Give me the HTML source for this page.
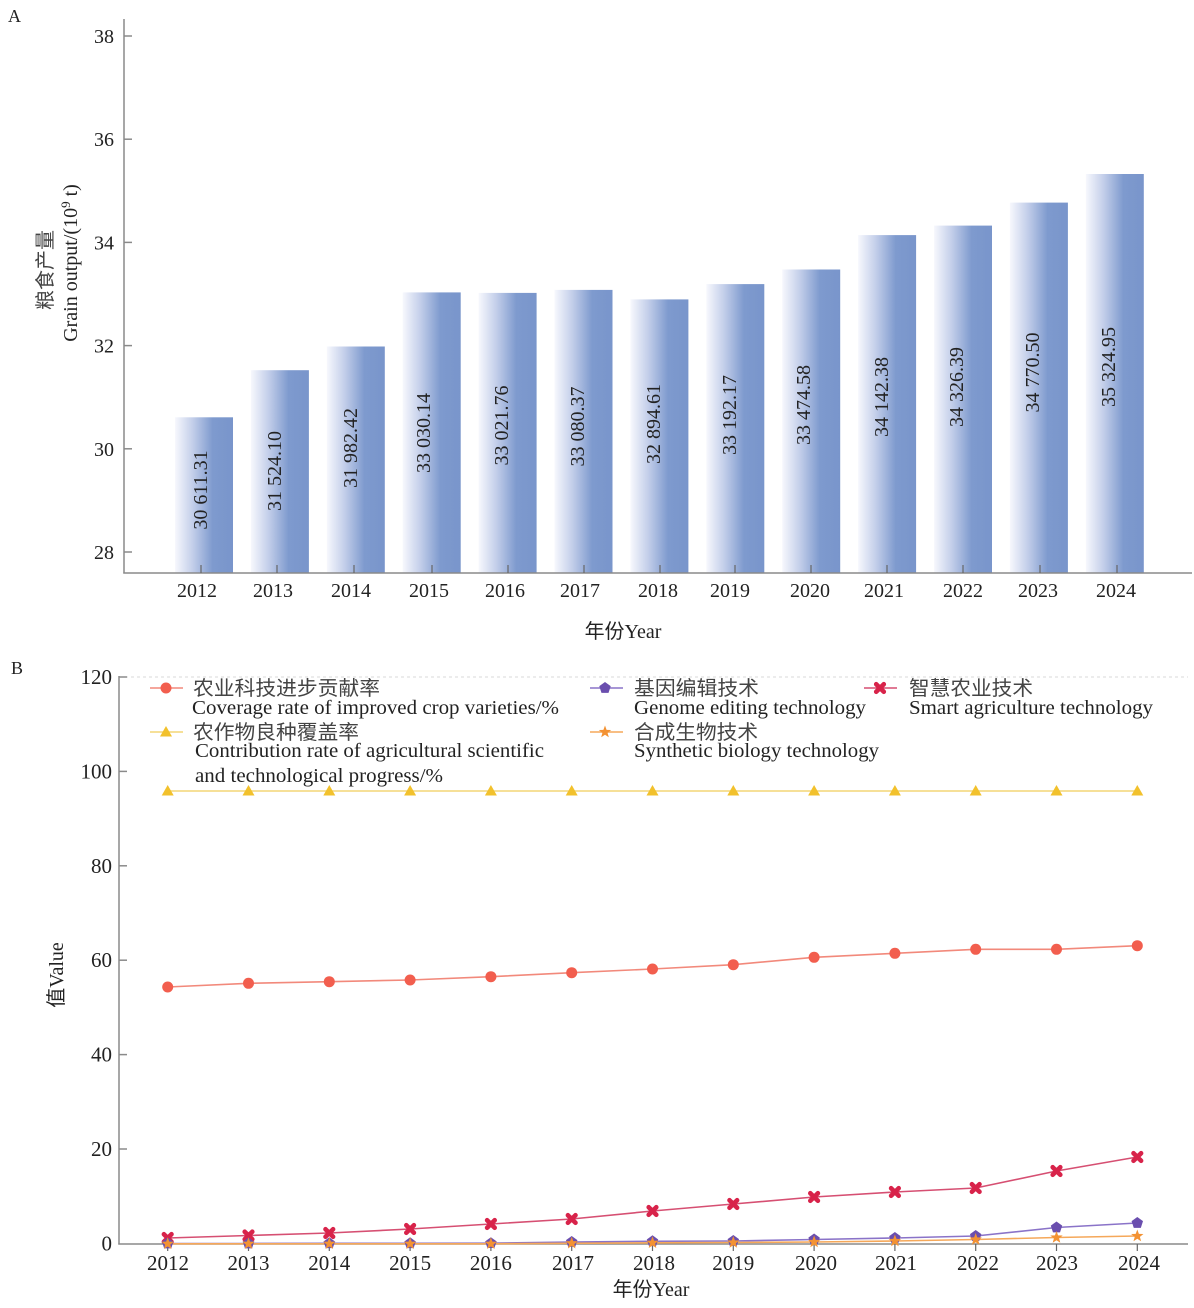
<!DOCTYPE html>
<html>
<head>
<meta charset="utf-8">
<style>
html,body{margin:0;padding:0;background:#fff;}
svg{display:block;}
text{font-family:"Liberation Serif","Noto Sans CJK SC",serif;fill:#222;}
.cjk{font-family:"Noto Sans CJK SC","Liberation Sans",sans-serif;fill:#444;}
</style>
</head>
<body>
<svg width="1194" height="1308" viewBox="0 0 1194 1308" xmlns="http://www.w3.org/2000/svg">
<defs>
  <linearGradient id="bg" x1="0" y1="0" x2="1" y2="0">
    <stop offset="0" stop-color="#f7f8fd"/>
    <stop offset="0.3" stop-color="#c4cfea"/>
    <stop offset="0.65" stop-color="#7e9ace"/>
    <stop offset="1" stop-color="#7995cb"/>
  </linearGradient>
  <g id="mc"><circle r="5.5" fill="#f25e4e"/></g>
  <g id="mt"><polygon points="0,-6 -6,4.5 6,4.5" fill="#f2c12c"/></g>
  <g id="mx"><path d="M-3.8,-3.8 L3.8,3.8 M3.8,-3.8 L-3.8,3.8" stroke="#d8234a" stroke-width="4.6" stroke-linecap="round" fill="none"/></g>
  <g id="mp"><polygon points="0,-6 5.71,-1.85 3.53,4.85 -3.53,4.85 -5.71,-1.85" fill="#6a4eae"/></g>
  <g id="ms"><polygon points="0,-6.5 1.59,-2.18 6.18,-2.01 2.57,0.83 3.82,5.26 0,2.7 -3.82,5.26 -2.57,0.83 -6.18,-2.01 -1.59,-2.18" fill="#f39233"/></g>
</defs>

<!-- ============ Chart A ============ -->
<text x="8" y="22" font-size="18">A</text>

<g fill="url(#bg)">
  <rect x="175.0" y="417.3" width="58" height="155.7"/>
  <rect x="250.9" y="370.2" width="58" height="202.8"/>
  <rect x="326.8" y="346.5" width="58" height="226.5"/>
  <rect x="402.7" y="292.4" width="58" height="280.6"/>
  <rect x="478.6" y="292.9" width="58" height="280.1"/>
  <rect x="554.5" y="289.9" width="58" height="283.1"/>
  <rect x="630.4" y="299.4" width="58" height="273.6"/>
  <rect x="706.3" y="284.1" width="58" height="288.9"/>
  <rect x="782.2" y="269.5" width="58" height="303.5"/>
  <rect x="858.1" y="235.1" width="58" height="337.9"/>
  <rect x="934.0" y="225.6" width="58" height="347.4"/>
  <rect x="1009.9" y="202.6" width="58" height="370.4"/>
  <rect x="1085.8" y="174.0" width="58" height="399.0"/>
</g>

<g font-size="20" text-anchor="middle" font-family="Liberation Serif, serif">
  <text transform="translate(207,490) rotate(-90)" fill="#333">30 611.31</text>
  <text transform="translate(281,471) rotate(-90)" fill="#333">31 524.10</text>
  <text transform="translate(357,448) rotate(-90)" fill="#333">31 982.42</text>
  <text transform="translate(430,433) rotate(-90)" fill="#333">33 030.14</text>
  <text transform="translate(508,425.5) rotate(-90)" fill="#333">33 021.76</text>
  <text transform="translate(584,426.5) rotate(-90)" fill="#333">33 080.37</text>
  <text transform="translate(660,424) rotate(-90)" fill="#333">32 894.61</text>
  <text transform="translate(736,415) rotate(-90)" fill="#333">33 192.17</text>
  <text transform="translate(810,405) rotate(-90)" fill="#333">33 474.58</text>
  <text transform="translate(888,397) rotate(-90)" fill="#333">34 142.38</text>
  <text transform="translate(963,387) rotate(-90)" fill="#333">34 326.39</text>
  <text transform="translate(1039,372.5) rotate(-90)" fill="#333">34 770.50</text>
  <text transform="translate(1115,367) rotate(-90)" fill="#333">35 324.95</text>
</g>

<g stroke="#8a8a8a" stroke-width="1.5" fill="none">
  <line x1="124" y1="19" x2="124" y2="573.5"/>
  <line x1="123.3" y1="573" x2="1192" y2="573"/>
  <line x1="124" y1="36" x2="132" y2="36"/>
  <line x1="124" y1="139.2" x2="132" y2="139.2"/>
  <line x1="124" y1="242.4" x2="132" y2="242.4"/>
  <line x1="124" y1="345.6" x2="132" y2="345.6"/>
  <line x1="124" y1="448.8" x2="132" y2="448.8"/>
  <line x1="124" y1="552" x2="132" y2="552"/>
</g>
<g stroke="#666" stroke-width="1.2">
  <line x1="201" y1="573" x2="201" y2="565"/>
  <line x1="277" y1="573" x2="277" y2="565"/>
  <line x1="354" y1="573" x2="354" y2="565"/>
  <line x1="432" y1="573" x2="432" y2="565"/>
  <line x1="508" y1="573" x2="508" y2="565"/>
  <line x1="584" y1="573" x2="584" y2="565"/>
  <line x1="660" y1="573" x2="660" y2="565"/>
  <line x1="735" y1="573" x2="735" y2="565"/>
  <line x1="811" y1="573" x2="811" y2="565"/>
  <line x1="887" y1="573" x2="887" y2="565"/>
  <line x1="963" y1="573" x2="963" y2="565"/>
  <line x1="1040" y1="573" x2="1040" y2="565"/>
  <line x1="1117" y1="573" x2="1117" y2="565"/>
</g>
<g font-size="20" text-anchor="end" font-family="Liberation Serif, serif">
  <text x="114" y="43">38</text>
  <text x="114" y="146.2">36</text>
  <text x="114" y="249.4">34</text>
  <text x="114" y="352.6">32</text>
  <text x="114" y="455.8">30</text>
  <text x="114" y="559">28</text>
</g>
<g font-size="20" text-anchor="middle" font-family="Liberation Serif, serif">
  <text x="197" y="597">2012</text>
  <text x="273" y="597">2013</text>
  <text x="351" y="597">2014</text>
  <text x="429" y="597">2015</text>
  <text x="505" y="597">2016</text>
  <text x="580" y="597">2017</text>
  <text x="658" y="597">2018</text>
  <text x="730" y="597">2019</text>
  <text x="810" y="597">2020</text>
  <text x="884" y="597">2021</text>
  <text x="963" y="597">2022</text>
  <text x="1038" y="597">2023</text>
  <text x="1116" y="597">2024</text>
</g>
<text x="623" y="638" font-size="20" text-anchor="middle">年份Year</text>
<text class="cjk" transform="translate(52,270) rotate(-90)" font-size="20" text-anchor="middle">粮食产量</text>
<text transform="translate(77,263) rotate(-90)" font-size="20" text-anchor="middle">Grain output/(10<tspan font-size="13" dy="-7">9</tspan><tspan dy="7"> t)</tspan></text>

<!-- ============ Chart B ============ -->
<text x="11" y="674" font-size="18">B</text>

<line x1="119" y1="677" x2="1188" y2="677" stroke="#d8d8d8" stroke-width="1" stroke-dasharray="3,3"/>
<g stroke="#8a8a8a" stroke-width="1.5" fill="none">
  <line x1="119" y1="676" x2="119" y2="1244.5"/>
  <line x1="118.3" y1="1244" x2="1188" y2="1244"/>
  <line x1="119" y1="677" x2="127" y2="677"/>
  <line x1="119" y1="771.4" x2="127" y2="771.4"/>
  <line x1="119" y1="865.8" x2="127" y2="865.8"/>
  <line x1="119" y1="960.2" x2="127" y2="960.2"/>
  <line x1="119" y1="1054.6" x2="127" y2="1054.6"/>
  <line x1="119" y1="1149" x2="127" y2="1149"/>
</g>
<g stroke="#666" stroke-width="1.2">
  <line x1="167.7" y1="1244" x2="167.7" y2="1251"/>
  <line x1="248.5" y1="1244" x2="248.5" y2="1251"/>
  <line x1="329.3" y1="1244" x2="329.3" y2="1251"/>
  <line x1="410.1" y1="1244" x2="410.1" y2="1251"/>
  <line x1="490.9" y1="1244" x2="490.9" y2="1251"/>
  <line x1="571.7" y1="1244" x2="571.7" y2="1251"/>
  <line x1="652.5" y1="1244" x2="652.5" y2="1251"/>
  <line x1="733.3" y1="1244" x2="733.3" y2="1251"/>
  <line x1="814.1" y1="1244" x2="814.1" y2="1251"/>
  <line x1="894.9" y1="1244" x2="894.9" y2="1251"/>
  <line x1="975.7" y1="1244" x2="975.7" y2="1251"/>
  <line x1="1056.5" y1="1244" x2="1056.5" y2="1251"/>
  <line x1="1137.3" y1="1244" x2="1137.3" y2="1251"/>
</g>
<g font-size="21" text-anchor="end" font-family="Liberation Serif, serif">
  <text x="112" y="684">120</text>
  <text x="112" y="778.4">100</text>
  <text x="112" y="872.8">80</text>
  <text x="112" y="967.2">60</text>
  <text x="112" y="1061.6">40</text>
  <text x="112" y="1156">20</text>
  <text x="112" y="1250.5">0</text>
</g>
<g font-size="21" text-anchor="middle" font-family="Liberation Serif, serif">
  <text x="168" y="1270">2012</text>
  <text x="248.5" y="1270">2013</text>
  <text x="329.3" y="1270">2014</text>
  <text x="410.1" y="1270">2015</text>
  <text x="490.9" y="1270">2016</text>
  <text x="573" y="1270">2017</text>
  <text x="654" y="1270">2018</text>
  <text x="733.3" y="1270">2019</text>
  <text x="816" y="1270">2020</text>
  <text x="896" y="1270">2021</text>
  <text x="978" y="1270">2022</text>
  <text x="1057" y="1270">2023</text>
  <text x="1139" y="1270">2024</text>
</g>
<text x="651" y="1296" font-size="20" text-anchor="middle">年份Year</text>
<text transform="translate(63,975) rotate(-90)" font-size="20" text-anchor="middle">值Value</text>

<line x1="167.7" y1="791" x2="1137.3" y2="791" stroke="#f4d676" stroke-width="1.6"/>
<polyline fill="none" stroke="#f2897b" stroke-width="1.6" points="167.7,987 248.5,983.3 329.3,981.7 410.1,980 490.9,976.7 571.7,972.7 652.5,969 733.3,964.7 814.1,957.3 894.9,953.3 975.7,949.3 1056.5,949.3 1137.3,945.7"/>
<polyline fill="none" stroke="#d64f72" stroke-width="1.6" points="167.7,1238 248.5,1235.5 329.3,1233 410.1,1229 490.9,1224 571.7,1219 652.5,1211 733.3,1204 814.1,1197 894.9,1192 975.7,1188 1056.5,1171 1137.3,1157"/>
<polyline fill="none" stroke="#8a73c8" stroke-width="1.6" points="167.7,1243.5 248.5,1243.5 329.3,1243.3 410.1,1243.3 490.9,1243.2 571.7,1242 652.5,1241.3 733.3,1241 814.1,1239.5 894.9,1238 975.7,1236 1056.5,1227.5 1137.3,1223"/>
<polyline fill="none" stroke="#f5a85a" stroke-width="1.6" points="167.7,1243.8 248.5,1243.8 329.3,1243.8 410.1,1243.8 490.9,1243.8 571.7,1243.3 652.5,1242.8 733.3,1242.5 814.1,1242 894.9,1241 975.7,1239.5 1056.5,1237.5 1137.3,1236"/>

<use href="#mt" x="167.7" y="791"/><use href="#mt" x="248.5" y="791"/><use href="#mt" x="329.3" y="791"/><use href="#mt" x="410.1" y="791"/><use href="#mt" x="490.9" y="791"/><use href="#mt" x="571.7" y="791"/><use href="#mt" x="652.5" y="791"/><use href="#mt" x="733.3" y="791"/><use href="#mt" x="814.1" y="791"/><use href="#mt" x="894.9" y="791"/><use href="#mt" x="975.7" y="791"/><use href="#mt" x="1056.5" y="791"/><use href="#mt" x="1137.3" y="791"/>
<use href="#mc" x="167.7" y="987"/><use href="#mc" x="248.5" y="983.3"/><use href="#mc" x="329.3" y="981.7"/><use href="#mc" x="410.1" y="980"/><use href="#mc" x="490.9" y="976.7"/><use href="#mc" x="571.7" y="972.7"/><use href="#mc" x="652.5" y="969"/><use href="#mc" x="733.3" y="964.7"/><use href="#mc" x="814.1" y="957.3"/><use href="#mc" x="894.9" y="953.3"/><use href="#mc" x="975.7" y="949.3"/><use href="#mc" x="1056.5" y="949.3"/><use href="#mc" x="1137.3" y="945.7"/>
<use href="#mx" x="167.7" y="1238"/><use href="#mx" x="248.5" y="1235.5"/><use href="#mx" x="329.3" y="1233"/><use href="#mx" x="410.1" y="1229"/><use href="#mx" x="490.9" y="1224"/><use href="#mx" x="571.7" y="1219"/><use href="#mx" x="652.5" y="1211"/><use href="#mx" x="733.3" y="1204"/><use href="#mx" x="814.1" y="1197"/><use href="#mx" x="894.9" y="1192"/><use href="#mx" x="975.7" y="1188"/><use href="#mx" x="1056.5" y="1171"/><use href="#mx" x="1137.3" y="1157"/>
<use href="#mp" x="167.7" y="1243.5"/><use href="#mp" x="248.5" y="1243.5"/><use href="#mp" x="329.3" y="1243.3"/><use href="#mp" x="410.1" y="1243.3"/><use href="#mp" x="490.9" y="1243.2"/><use href="#mp" x="571.7" y="1242"/><use href="#mp" x="652.5" y="1241.3"/><use href="#mp" x="733.3" y="1241"/><use href="#mp" x="814.1" y="1239.5"/><use href="#mp" x="894.9" y="1238"/><use href="#mp" x="975.7" y="1236"/><use href="#mp" x="1056.5" y="1227.5"/><use href="#mp" x="1137.3" y="1223"/>
<use href="#ms" x="167.7" y="1243.8"/><use href="#ms" x="248.5" y="1243.8"/><use href="#ms" x="329.3" y="1243.8"/><use href="#ms" x="410.1" y="1243.8"/><use href="#ms" x="490.9" y="1243.8"/><use href="#ms" x="571.7" y="1243.3"/><use href="#ms" x="652.5" y="1242.8"/><use href="#ms" x="733.3" y="1242.5"/><use href="#ms" x="814.1" y="1242"/><use href="#ms" x="894.9" y="1241"/><use href="#ms" x="975.7" y="1239.5"/><use href="#ms" x="1056.5" y="1237.5"/><use href="#ms" x="1137.3" y="1236"/>

<!-- legend -->
<line x1="150" y1="688" x2="183" y2="688" stroke="#f2897b" stroke-width="1.5"/>
<use href="#mc" x="166" y="688"/>
<text class="cjk" x="193" y="695" font-size="20" textLength="187" lengthAdjust="spacingAndGlyphs">农业科技进步贡献率</text>
<text x="192" y="714" font-size="20" textLength="367" lengthAdjust="spacingAndGlyphs">Coverage rate of improved crop varieties/%</text>

<line x1="150" y1="732" x2="183" y2="732" stroke="#f4d676" stroke-width="1.5"/>
<use href="#mt" x="166" y="732"/>
<text class="cjk" x="193" y="739" font-size="20" textLength="166" lengthAdjust="spacingAndGlyphs">农作物良种覆盖率</text>
<text x="195" y="757" font-size="20" textLength="349" lengthAdjust="spacingAndGlyphs">Contribution rate of agricultural scientific</text>
<text x="195" y="782" font-size="20" textLength="248" lengthAdjust="spacingAndGlyphs">and technological progress/%</text>

<line x1="590" y1="688" x2="623" y2="688" stroke="#8a73c8" stroke-width="1.5"/>
<use href="#mp" x="605" y="688"/>
<text class="cjk" x="634" y="695" font-size="20" textLength="125" lengthAdjust="spacingAndGlyphs">基因编辑技术</text>
<text x="634" y="714" font-size="20" textLength="232" lengthAdjust="spacingAndGlyphs">Genome editing technology</text>

<line x1="590" y1="732" x2="623" y2="732" stroke="#f5a85a" stroke-width="1.5"/>
<use href="#ms" x="605" y="732"/>
<text class="cjk" x="634" y="739" font-size="20" textLength="124" lengthAdjust="spacingAndGlyphs">合成生物技术</text>
<text x="634" y="757" font-size="20" textLength="245" lengthAdjust="spacingAndGlyphs">Synthetic biology technology</text>

<line x1="864" y1="688" x2="897" y2="688" stroke="#d64f72" stroke-width="1.5"/>
<use href="#mx" x="880" y="688"/>
<text class="cjk" x="909" y="695" font-size="20" textLength="124" lengthAdjust="spacingAndGlyphs">智慧农业技术</text>
<text x="909" y="714" font-size="20" textLength="244" lengthAdjust="spacingAndGlyphs">Smart agriculture technology</text>
</svg>
</body>
</html>
